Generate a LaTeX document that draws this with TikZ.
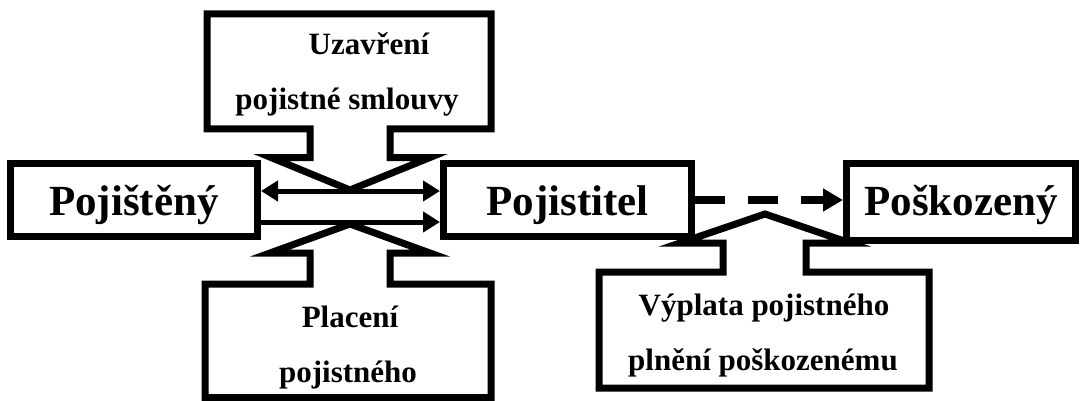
\documentclass[tikz,border=0pt]{standalone}
\usepackage{fontspec}
\setmainfont{Liberation Serif}
\usetikzlibrary{arrows.meta}
\begin{document}
\begin{tikzpicture}[x=1pt,y=-1pt,
  mainbox/.style={draw, line width=7pt, fill=white, inner sep=0pt,
    font=\fontsize{43}{43}\selectfont\bfseries, text height=30pt, text depth=0pt},
  callout/.style={draw, line width=7pt, fill=white, line join=miter, miter limit=20},
  ctext/.style={font=\fontsize{31}{31}\selectfont\bfseries, anchor=base, inner sep=0pt},
  flow/.style={line width=5pt},
  tipA/.tip={Triangle[length=17pt,width=20pt]},
  tipB/.tip={Triangle[length=20pt,width=22pt]},
]
\useasboundingbox (0,0) rectangle (1081,401);

% callouts
\draw[callout] (207,14) -- (491,14) -- (491,129) -- (390,129) -- (390,157.5) -- (430,157.5)
  -- (350,190) -- (271,157.5) -- (310,157.5) -- (310,129) -- (207,129) -- cycle;
\draw[callout] (205,397.5) -- (491,397.5) -- (491,284) -- (390,284) -- (390,253) -- (430,253)
  -- (350,224) -- (270,253) -- (310,253) -- (310,284) -- (205,284) -- cycle;
\draw[callout] (599,272) -- (723,272) -- (723,243) -- (680,243) -- (765,214) -- (850,243)
  -- (806,243) -- (806,272) -- (929,272) -- (929,388) -- (599,388) -- cycle;

% main boxes
\node[mainbox, minimum width=247pt, minimum height=73pt] (pojisteny) at (134,200) {Pojištěný};
\node[mainbox, minimum width=248pt, minimum height=73pt] (pojistitel) at (567.5,200) {Pojistitel};
\node[mainbox, minimum width=229pt, minimum height=77pt, text height=26pt] (poskozeny) at (961,202) {Poškozený};

% connectors
\draw[flow, tipA-tipA] ([yshift=9pt]pojisteny.east) -- ([yshift=9pt]pojistitel.west);
\draw[flow, -tipA] ([yshift=-22pt]pojisteny.east) -- ([yshift=-22pt]pojistitel.west);
\draw[line width=8pt, dash pattern=on 30pt off 23pt, -tipB] (pojistitel.east) -- (pojistitel.east -| poskozeny.west);

% callout texts
\node[ctext] (t1) at (369,55) {Uzavření};
\node[ctext] (t2) at (347,110) {pojistné smlouvy};
\node[ctext] (t3) at (350,327) {Placení};
\node[ctext] (t4) at (348,382) {pojistného};
\node[ctext] (t5) at (764,315) {Výplata pojistného};
\node[ctext] (t6) at (763,370) {plnění poškozenému};
\end{tikzpicture}
\end{document}
